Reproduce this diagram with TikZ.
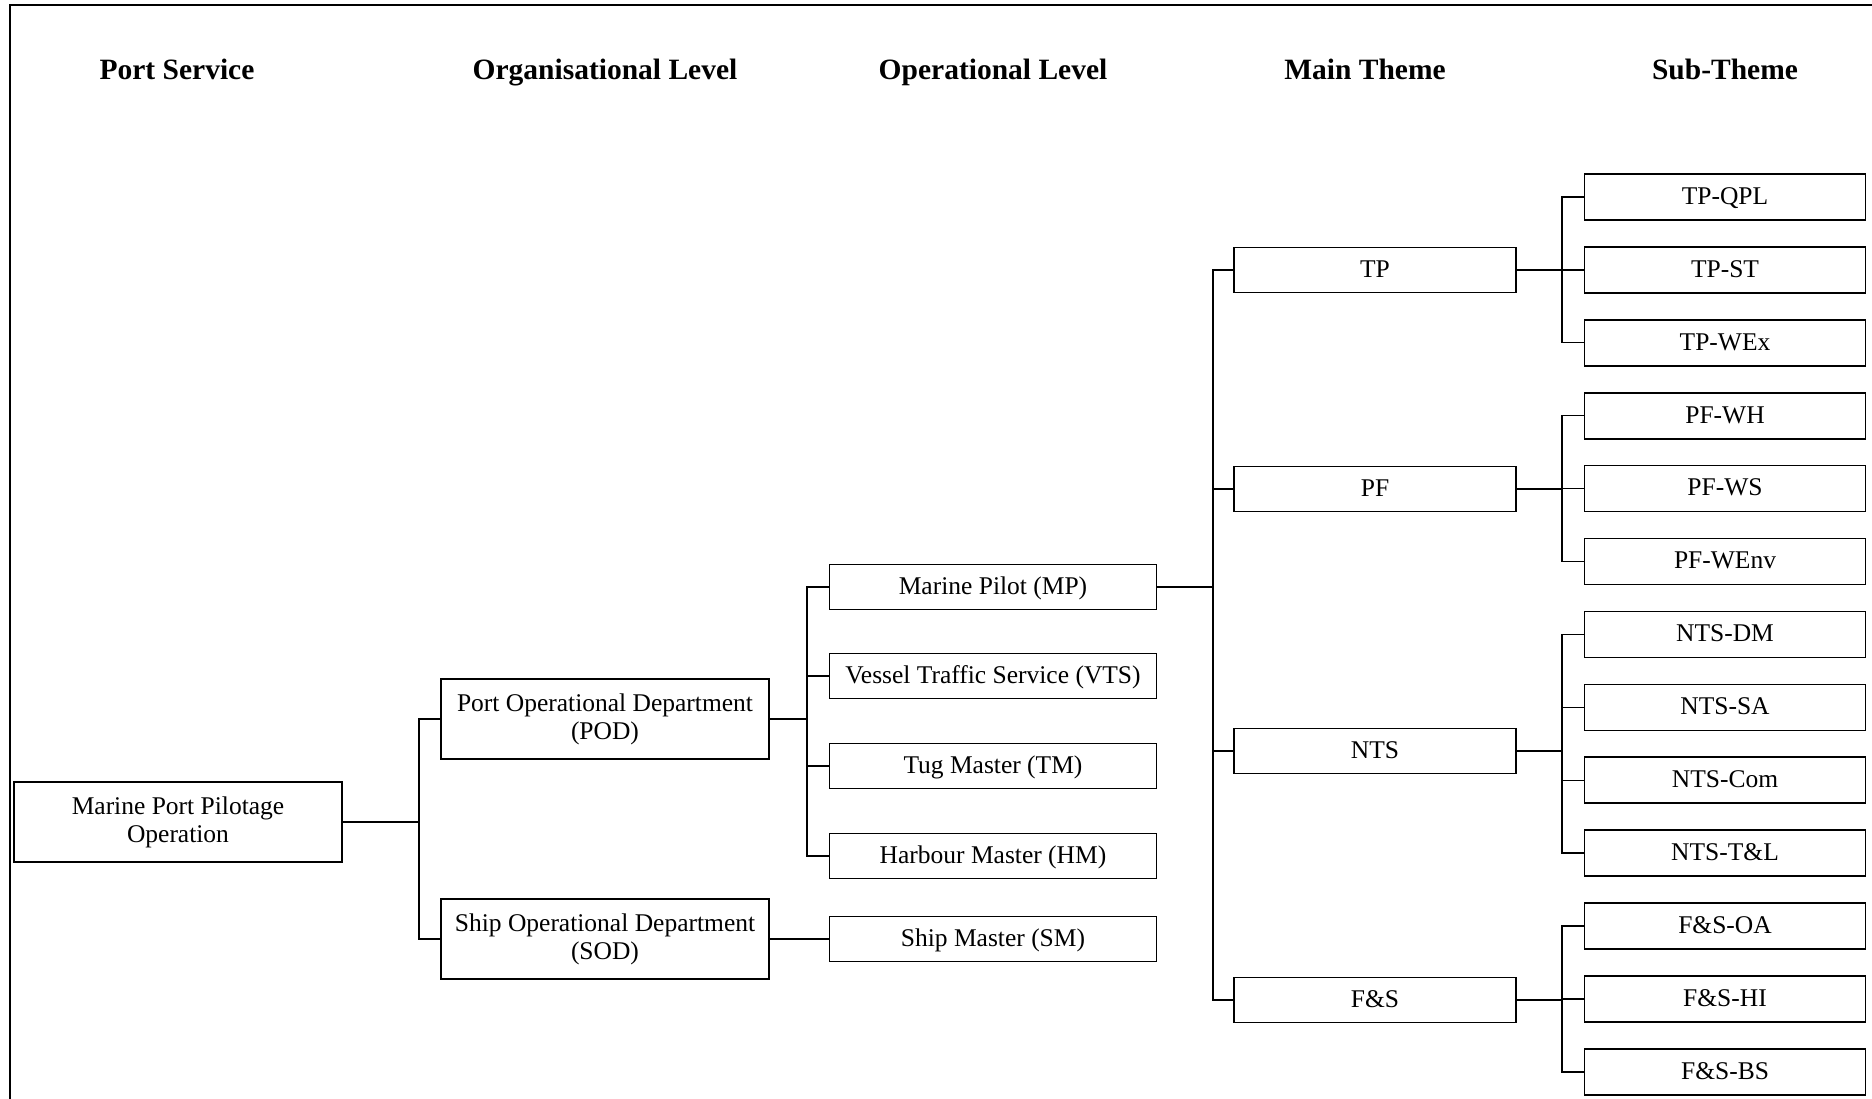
\documentclass[tikz,border=0pt]{standalone}
\usepackage{fontspec}
\setmainfont{Liberation Serif}
\begin{document}
\begin{tikzpicture}[x=1pt,y=-1pt,
  box/.style={draw, line width=1.6pt, inner sep=0pt, align=center,
    font=\fontsize{25.5}{28}\selectfont, minimum height=45pt,
    text height=19pt, text depth=4.4pt},
  bigbox/.style={box, text height=, text depth=, minimum width=328pt, minimum height=80pt},
  opbox/.style={box, minimum width=327pt},
  thbox/.style={box, minimum width=282pt},
  subbox/.style={box, minimum width=281pt, minimum height=46pt},
  head/.style={font=\bfseries\fontsize{29.5}{32}\selectfont, anchor=base},
  link/.style={line width=1.4pt}]

\useasboundingbox (0,0) rectangle (1872,1099);
% outer frame (top and left edges)
\draw[line width=2pt] (1872,5) -- (10,5) -- (10,1099);

% column headings
\node[head] (h1) at (177,80) {Port Service};
\node[head] (h2) at (605,80) {Organisational Level};
\node[head] (h3) at (993,80) {Operational Level};
\node[head] (h4) at (1365,80) {Main Theme};
\node[head] (h5) at (1725,80) {Sub-Theme};

% level 1
\node[bigbox] (mppo) at (178,822) {Marine Port Pilotage\\Operation};
% level 2
\node[bigbox] (pod) at (605,719) {Port Operational Department\\(POD)};
\node[bigbox] (sod) at (605,939) {Ship Operational Department\\(SOD)};
% level 3
\node[opbox] (mp)  at (993,587) {Marine Pilot (MP)};
\node[opbox] (vts) at (993,676) {Vessel Traffic Service (VTS)};
\node[opbox] (tm)  at (993,766) {Tug Master (TM)};
\node[opbox] (hm)  at (993,856) {Harbour Master (HM)};
\node[opbox] (sm)  at (993,939) {Ship Master (SM)};
% main themes
\node[thbox] (tp)  at (1375,270) {TP};
\node[thbox] (pf)  at (1375,489) {PF};
\node[thbox] (nts) at (1375,751) {NTS};
\node[thbox] (fs)  at (1375,1000) {F\&S};
% sub-themes
\node[subbox] (tpqpl) at (1725,197.0) {TP-QPL};
\node[subbox] (tpst)  at (1725,269.9) {TP-ST};
\node[subbox] (tpwex) at (1725,342.8) {TP-WEx};
\node[subbox] (pfwh)  at (1725,415.7) {PF-WH};
\node[subbox] (pfws)  at (1725,488.6) {PF-WS};
\node[subbox] (pfwenv) at (1725,561.5) {PF-WEnv};
\node[subbox] (ntsdm) at (1725,634.4) {NTS-DM};
\node[subbox] (ntssa) at (1725,707.3) {NTS-SA};
\node[subbox] (ntscom) at (1725,780.2) {NTS-Com};
\node[subbox] (ntstl) at (1725,853.1) {NTS-T\&L};
\node[subbox] (fsoa)  at (1725,926.0) {F\&S-OA};
\node[subbox] (fshi)  at (1725,998.9) {F\&S-HI};
\node[subbox] (fsbs)  at (1725,1071.8) {F\&S-BS};

% vertical bus positions
\coordinate (b1) at (419,0);
\coordinate (b2) at (807,0);
\coordinate (b3) at (1213,0);
\coordinate (b4) at (1562,0);

% port service -> departments
\draw[link] (mppo.east) -- (mppo.east -| b1);
\draw[link] (pod.west) -| (b1 |- sod.west) -- (sod.west);

% POD -> operational roles
\draw[link] (pod.east) -- (pod.east -| b2);
\draw[link] (mp.west) -| (b2 |- hm.west) -- (hm.west);
\draw[link] (b2 |- vts.west) -- (vts.west);
\draw[link] (b2 |- tm.west) -- (tm.west);

% SOD -> ship master
\draw[link] (sod.east) -- (sm.west);

% marine pilot -> main themes
\draw[link] (mp.east) -- (mp.east -| b3);
\draw[link] (tp.west) -| (b3 |- fs.west) -- (fs.west);
\draw[link] (b3 |- pf.west) -- (pf.west);
\draw[link] (b3 |- nts.west) -- (nts.west);

% main themes -> sub-themes
\draw[link] (tp.east) -- (tp.east -| b4);
\draw[link] (tpqpl.west) -| (b4 |- tpwex.west) -- (tpwex.west);
\draw[link] (b4 |- tpst.west) -- (tpst.west);

\draw[link] (pf.east) -- (pf.east -| b4);
\draw[link] (pfwh.west) -| (b4 |- pfwenv.west) -- (pfwenv.west);
\draw[link] (b4 |- pfws.west) -- (pfws.west);

\draw[link] (nts.east) -- (nts.east -| b4);
\draw[link] (ntsdm.west) -| (b4 |- ntstl.west) -- (ntstl.west);
\draw[link] (b4 |- ntssa.west) -- (ntssa.west);
\draw[link] (b4 |- ntscom.west) -- (ntscom.west);

\draw[link] (fs.east) -- (fs.east -| b4);
\draw[link] (fsoa.west) -| (b4 |- fsbs.west) -- (fsbs.west);
\draw[link] (b4 |- fshi.west) -- (fshi.west);
\end{tikzpicture}
\end{document}
